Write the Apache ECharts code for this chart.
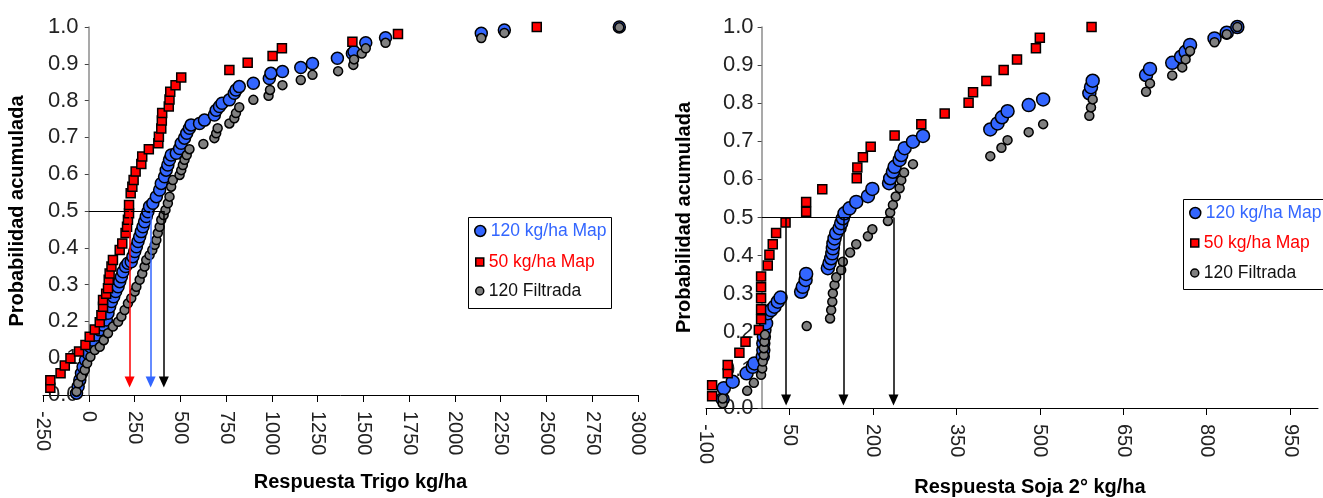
<!DOCTYPE html>
<html><head><meta charset="utf-8">
<script src="https://cdn.jsdelivr.net/npm/echarts@6/dist/echarts.min.js"></script>
<style>html,body{margin:0;padding:0;background:#fff}#c{width:1323px;height:498px}</style>
</head><body><div id="c"></div>
<script>
// ---------- DATA ----------
const seriesNames = ['120 kg/ha Map', '50 kg/ha Map', '120 Filtrada'];

// Left panel: Respuesta Trigo kg/ha  [x, prob]
const trigo120Map = [[-67,0.005],[-58,0.023],[-49,0.041],[-40,0.059],[-31,0.077],[-18,0.095],[-4,0.113],[9,0.131],[24,0.149],[42,0.163],[60,0.177],[78,0.19],[96,0.204],[105,0.222],[114,0.24],[124,0.254],[136,0.267],[147,0.281],[160,0.294],[169,0.308],[178,0.321],[187,0.335],[201,0.349],[214,0.358],[232,0.362],[241,0.376],[251,0.39],[260,0.403],[269,0.417],[278,0.43],[287,0.444],[296,0.457],[305,0.471],[314,0.485],[323,0.498],[332,0.512],[350,0.521],[369,0.539],[387,0.557],[396,0.575],[414,0.593],[423,0.611],[432,0.625],[441,0.639],[450,0.652],[478,0.657],[496,0.67],[505,0.684],[523,0.698],[535,0.711],[550,0.725],[559,0.734],[605,0.738],[632,0.747],[686,0.761],[696,0.774],[714,0.784],[728,0.793],[768,0.802],[795,0.82],[804,0.829],[822,0.838],[899,0.847],[986,0.86],[995,0.874],[1058,0.879],[1158,0.89],[1222,0.901],[1358,0.915],[1440,0.928],[1449,0.933],[1513,0.957],[1621,0.971],[2144,0.983],[2270,0.992],[2898,1.0]];
const trigo50Map = [[-210,0.02],[-210,0.04],[-154,0.059],[-131,0.08],[-100,0.1],[-53,0.118],[-18,0.136],[5,0.158],[33,0.178],[60,0.198],[69,0.217],[78,0.24],[78,0.258],[95,0.275],[105,0.29],[109,0.313],[114,0.33],[124,0.349],[132,0.367],[169,0.394],[183,0.412],[201,0.44],[209,0.457],[214,0.476],[220,0.494],[220,0.516],[229,0.548],[238,0.566],[245,0.584],[256,0.607],[287,0.628],[292,0.648],[328,0.668],[380,0.684],[383,0.702],[396,0.724],[399,0.746],[401,0.766],[437,0.784],[441,0.803],[445,0.824],[474,0.842],[505,0.863],[768,0.883],[868,0.903],[1004,0.921],[1055,0.942],[1440,0.96],[1689,0.981],[2447,1.0]];
const trigo120Filtrada = [[-67,0.009],[-58,0.032],[-40,0.05],[-22,0.068],[-9,0.086],[9,0.104],[33,0.122],[60,0.131],[82,0.149],[105,0.168],[132,0.186],[160,0.199],[178,0.213],[196,0.231],[214,0.249],[232,0.263],[251,0.281],[260,0.294],[278,0.313],[292,0.33],[305,0.349],[314,0.367],[332,0.38],[347,0.394],[360,0.408],[369,0.421],[377,0.44],[387,0.457],[396,0.476],[409,0.489],[419,0.503],[432,0.521],[441,0.539],[450,0.566],[459,0.584],[496,0.598],[505,0.611],[514,0.625],[523,0.639],[535,0.652],[550,0.668],[626,0.682],[686,0.698],[696,0.711],[704,0.725],[768,0.738],[795,0.752],[804,0.766],[822,0.782],[899,0.802],[982,0.813],[990,0.829],[1058,0.842],[1158,0.856],[1222,0.87],[1362,0.88],[1445,0.897],[1449,0.912],[1491,0.928],[1513,0.942],[1621,0.957],[2144,0.97],[2270,0.984],[2898,0.999]];

// Right panel: Respuesta Soja 2° kg/ha  [x, prob]
const soja120Map = [[-70,0.023],[-68,0.052],[-52,0.069],[-27,0.091],[-16,0.108],[-13,0.117],[2,0.135],[3,0.152],[3,0.17],[4,0.187],[5,0.205],[8,0.222],[11,0.249],[17,0.257],[23,0.266],[29,0.279],[34,0.29],[71,0.305],[74,0.318],[79,0.336],[80,0.352],[119,0.367],[122,0.38],[125,0.393],[127,0.406],[128,0.419],[129,0.432],[131,0.445],[134,0.459],[140,0.472],[143,0.485],[146,0.498],[149,0.511],[158,0.524],[170,0.541],[191,0.556],[199,0.575],[229,0.59],[231,0.603],[236,0.62],[239,0.633],[248,0.651],[251,0.664],[257,0.682],[272,0.699],[290,0.714],[411,0.731],[424,0.747],[432,0.763],[442,0.779],[480,0.795],[506,0.81],[589,0.826],[592,0.842],[595,0.859],[691,0.874],[698,0.89],[738,0.906],[754,0.922],[762,0.935],[770,0.953],[814,0.97],[836,0.985],[855,1.0]];
const soja50Map = [[-89,0.031],[-89,0.06],[-61,0.091],[-61,0.113],[-40,0.145],[-29,0.174],[-5,0.205],[-1,0.233],[-1,0.259],[-1,0.288],[-1,0.317],[-1,0.345],[11,0.374],[14,0.402],[20,0.43],[26,0.459],[43,0.487],[80,0.515],[80,0.541],[109,0.574],[171,0.603],[172,0.631],[182,0.658],[196,0.686],[239,0.715],[287,0.745],[329,0.773],[372,0.801],[380,0.829],[404,0.858],[435,0.887],[459,0.915],[493,0.944],[500,0.972],[593,1.0]];
const soja120Filtrada = [[-70,0.012],[-70,0.025],[-26,0.045],[-14,0.066],[-1,0.087],[1,0.104],[2,0.122],[4,0.139],[4,0.157],[5,0.174],[6,0.192],[81,0.215],[123,0.235],[125,0.257],[127,0.279],[128,0.301],[131,0.323],[134,0.343],[143,0.362],[146,0.384],[159,0.408],[170,0.43],[191,0.451],[199,0.469],[227,0.491],[231,0.513],[236,0.533],[241,0.555],[248,0.577],[251,0.598],[256,0.618],[272,0.64],[411,0.661],[431,0.683],[442,0.703],[480,0.724],[506,0.745],[589,0.767],[592,0.789],[595,0.81],[691,0.83],[698,0.852],[738,0.873],[756,0.894],[762,0.915],[770,0.937],[814,0.96],[836,0.981],[855,1.0]];

// Tick labels / guide values
const sojaXTicks = [-100, 50, 200, 350, 500, 650, 800, 950];
const trigoMedianX = [223, 338, 410];   // red, blue, black arrows
const sojaMedianX = [44, 147, 237];
const medianProb = 0.5;

// ---------- CHART ----------
const FONT = '"Liberation Sans", Arial, sans-serif';
const BLUE = '#3366ff', RED = '#ff0000', GRAY = '#808080';
const chart = echarts.init(document.getElementById('c'));

function xAxis(gi, min, max, name, extra) {
  return Object.assign({
    type: 'value', gridIndex: gi, min: min, max: max,
    name: name, nameLocation: 'middle',
    nameTextStyle: { fontFamily: FONT, fontWeight: 'bold', fontSize: 20, color: '#000' },
    axisLine: { show: true, onZero: false, lineStyle: { color: '#000', width: 1 } },
    axisTick: { show: true, length: 7, lineStyle: { color: '#000' } },
    axisLabel: { rotate: -90, fontFamily: FONT, fontSize: 20, color: '#222', margin: 16, formatter: v => String(v) },
    splitLine: { show: false }
  }, extra);
}
function yAxis(gi, nameGap, margin) {
  return {
    type: 'value', gridIndex: gi, min: 0, max: 1, interval: 0.1,
    name: 'Probabilidad acumulada', nameLocation: 'middle', nameRotate: 90, nameGap: nameGap,
    nameTextStyle: { fontFamily: FONT, fontWeight: 'bold', fontSize: 20, color: '#000' },
    axisLine: { show: true, onZero: true, lineStyle: { color: '#8c8c8c', width: 1.5 } },
    axisTick: { show: true, length: 4, lineStyle: { color: '#444' } },
    axisLabel: { inside: true, fontFamily: FONT, fontSize: 22, color: '#222', margin: margin,
                 formatter: v => v.toFixed(1) },
    splitLine: { show: false }
  };
}
function scatter(name, data, gi, symbol, size, color) {
  return {
    type: 'scatter', name: name, xAxisIndex: gi, yAxisIndex: gi, data: data,
    symbol: symbol, symbolSize: size,
    itemStyle: { color: color, borderColor: '#000', borderWidth: 1.5, opacity: 1 },
    emphasis: { disabled: true }
  };
}
function guides(gi, xs, colors, tipY) {
  const maxX = Math.max.apply(null, xs);
  const data = [[{ coord: [0, medianProb], symbol: 'none' }, { coord: [maxX, medianProb], symbol: 'none', lineStyle: { color: '#000', width: 1 } }]];
  xs.forEach((x, i) => {
    data.push([{ coord: [x, medianProb], symbol: 'none' },
               { coord: [x, tipY], symbol: 'triangle', symbolSize: [10, 11],
                 lineStyle: { color: colors[i], width: 1.5 }, itemStyle: { color: colors[i] } }]);
  });
  return {
    type: 'line', name: 'guides' + gi, xAxisIndex: gi, yAxisIndex: gi, data: [],
    markLine: { silent: true, animation: false, symbol: ['none', 'triangle'],
                label: { show: false }, lineStyle: { type: 'solid', color: '#000', width: 1.5 },
                emphasis: { disabled: true }, data: data }
  };
}
function legendItem(left, top, name, icon, size, color, textColor) {
  return {
    left: left, top: top, orient: 'vertical', padding: 0, itemGap: 0,
    itemWidth: size, itemHeight: size, icon: icon, selectedMode: false,
    textStyle: { fontFamily: FONT, fontSize: 17.5, color: textColor },
    itemStyle: { color: color, borderColor: '#000', borderWidth: 1.5 },
    data: [{ name: name }]
  };
}

const option = {
  animation: false,
  backgroundColor: '#fff',
  grid: [
    { left: 43, right: 685, top: 27, bottom: 103, containLabel: false, outerBoundsMode: 'none' },
    { left: 706, right: 5, top: 27, bottom: 90, containLabel: false, outerBoundsMode: 'none' }
  ],
  xAxis: [
    xAxis(0, -250, 3000, 'Respuesta Trigo kg/ha', { interval: 250, nameGap: 77,
      nameTextStyle: { fontFamily: FONT, fontWeight: 'bold', fontSize: 20, color: '#000', padding: [0, 0, 0, 40] } }),
    xAxis(1, -100, 1000, 'Respuesta Soja 2° kg/ha', { nameGap: 69,
      nameTextStyle: { fontFamily: FONT, fontWeight: 'bold', fontSize: 20, color: '#000', padding: [0, 0, 0, 36] },
      axisTick: { show: true, length: 7, lineStyle: { color: '#000' }, customValues: sojaXTicks },
      axisLabel: { rotate: -90, fontFamily: FONT, fontSize: 20, color: '#222', margin: 16, customValues: sojaXTicks, formatter: v => String(v) } })
  ],
  yAxis: [ yAxis(0, 16, 5), yAxis(1, 12, 17) ],
  legend: [
    legendItem(474, 222, seriesNames[0], 'circle', 11, BLUE, BLUE),
    legendItem(475, 253, seriesNames[1], 'rect', 8, RED, RED),
    legendItem(475, 282, seriesNames[2], 'circle', 8, GRAY, '#111'),
    legendItem(1189, 204, seriesNames[0], 'circle', 11, BLUE, BLUE),
    legendItem(1190, 234, seriesNames[1], 'rect', 8, RED, RED),
    legendItem(1190, 264, seriesNames[2], 'circle', 8, GRAY, '#111')
  ],
  graphic: [
    { type: 'rect', z: -1, shape: { x: 468.5, y: 217.5, width: 143, height: 91 }, style: { fill: 'none', stroke: '#000', lineWidth: 1 } },
    { type: 'rect', z: -1, shape: { x: 1183.5, y: 199.5, width: 150, height: 90 }, style: { fill: 'none', stroke: '#000', lineWidth: 1 } }
  ],
  series: [
    scatter(seriesNames[0], trigo120Map, 0, 'circle', 12, BLUE),
    scatter(seriesNames[1], trigo50Map, 0, 'rect', 9, RED),
    scatter(seriesNames[2], trigo120Filtrada, 0, 'circle', 9, GRAY),
    guides(0, trigoMedianX, [RED, BLUE, '#000'], 0.035),
    scatter(seriesNames[0], soja120Map, 1, 'circle', 13, BLUE),
    scatter(seriesNames[1], soja50Map, 1, 'rect', 9, RED),
    scatter(seriesNames[2], soja120Filtrada, 1, 'circle', 9, GRAY),
    guides(1, sojaMedianX, ['#000', '#000', '#000'], 0.021)
  ]
};
chart.setOption(option);
</script>
</body></html>
